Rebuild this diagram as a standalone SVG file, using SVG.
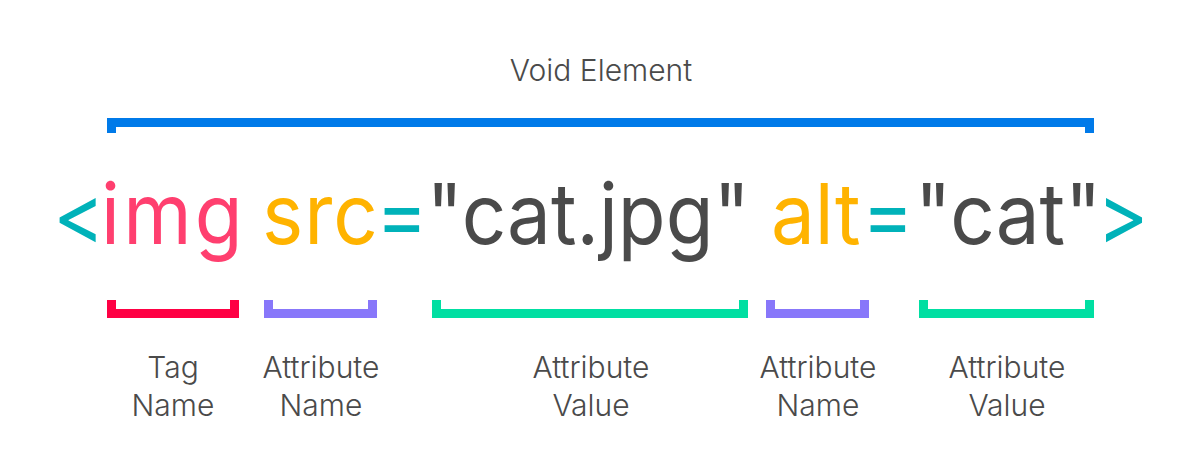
<svg xmlns="http://www.w3.org/2000/svg" width="1201" height="474" viewBox="0 0 1201 474">
<style>
.lbl{font-family:Inter,"Noto Sans",sans-serif;font-size:30px;font-weight:300;fill:#4a4a4a;text-anchor:middle}
.code{font-family:Inter,"Noto Sans",sans-serif;font-size:84px;fill:#4a4a4a}
.br{fill:none;stroke-width:9;stroke-linejoin:miter;stroke-linecap:butt}
.teal{fill:#00b2b9}.pink{fill:#ff3f6f}.orange{fill:#ffb300}
</style>
<rect width="1201" height="474" fill="#ffffff"/>
<g id="title"><text class="lbl" x="601" y="81">Void Element</text></g>
<g id="code">
<text class="code" y="244" transform="scale(0.93,1)"><tspan class="teal" x="57">&lt;</tspan><tspan class="pink" x="108.6" letter-spacing="3.5">img</tspan><tspan class="orange" x="281.8" letter-spacing="1">src</tspan><tspan class="teal" x="404.3">=</tspan><tspan x="458.5">"cat.jpg"</tspan><tspan class="orange" x="829">alt</tspan><tspan class="teal" x="927">=</tspan><tspan x="983.9">"cat"</tspan><tspan class="teal" x="1179.6">&gt;</tspan></text>
</g>
<g id="connectors">
<path class="br" stroke="#007ae9" d="M111.5,133 V122.5 H1089.5 V133"/>
<path class="br" stroke="#ff0044" d="M111.5,300 V313.5 H234.5 V300"/>
<path class="br" stroke="#8877fa" d="M268.5,300 V313.5 H372.5 V300"/>
<path class="br" stroke="#00dfa2" d="M436.5,300 V313.5 H743.5 V300"/>
<path class="br" stroke="#8877fa" d="M770.5,300 V313.5 H864.5 V300"/>
<path class="br" stroke="#00dfa2" d="M923.5,300 V313.5 H1089.5 V300"/>
</g>
<g id="tag-name"><text class="lbl" x="173" y="378">Tag</text><text class="lbl" x="173" y="416">Name</text></g>
<g id="attr-name-1"><text class="lbl" x="321" y="378">Attribute</text><text class="lbl" x="321" y="416">Name</text></g>
<g id="attr-value-1"><text class="lbl" x="591" y="378">Attribute</text><text class="lbl" x="591" y="416">Value</text></g>
<g id="attr-name-2"><text class="lbl" x="818" y="378">Attribute</text><text class="lbl" x="818" y="416">Name</text></g>
<g id="attr-value-2"><text class="lbl" x="1007" y="378">Attribute</text><text class="lbl" x="1007" y="416">Value</text></g>
</svg>
